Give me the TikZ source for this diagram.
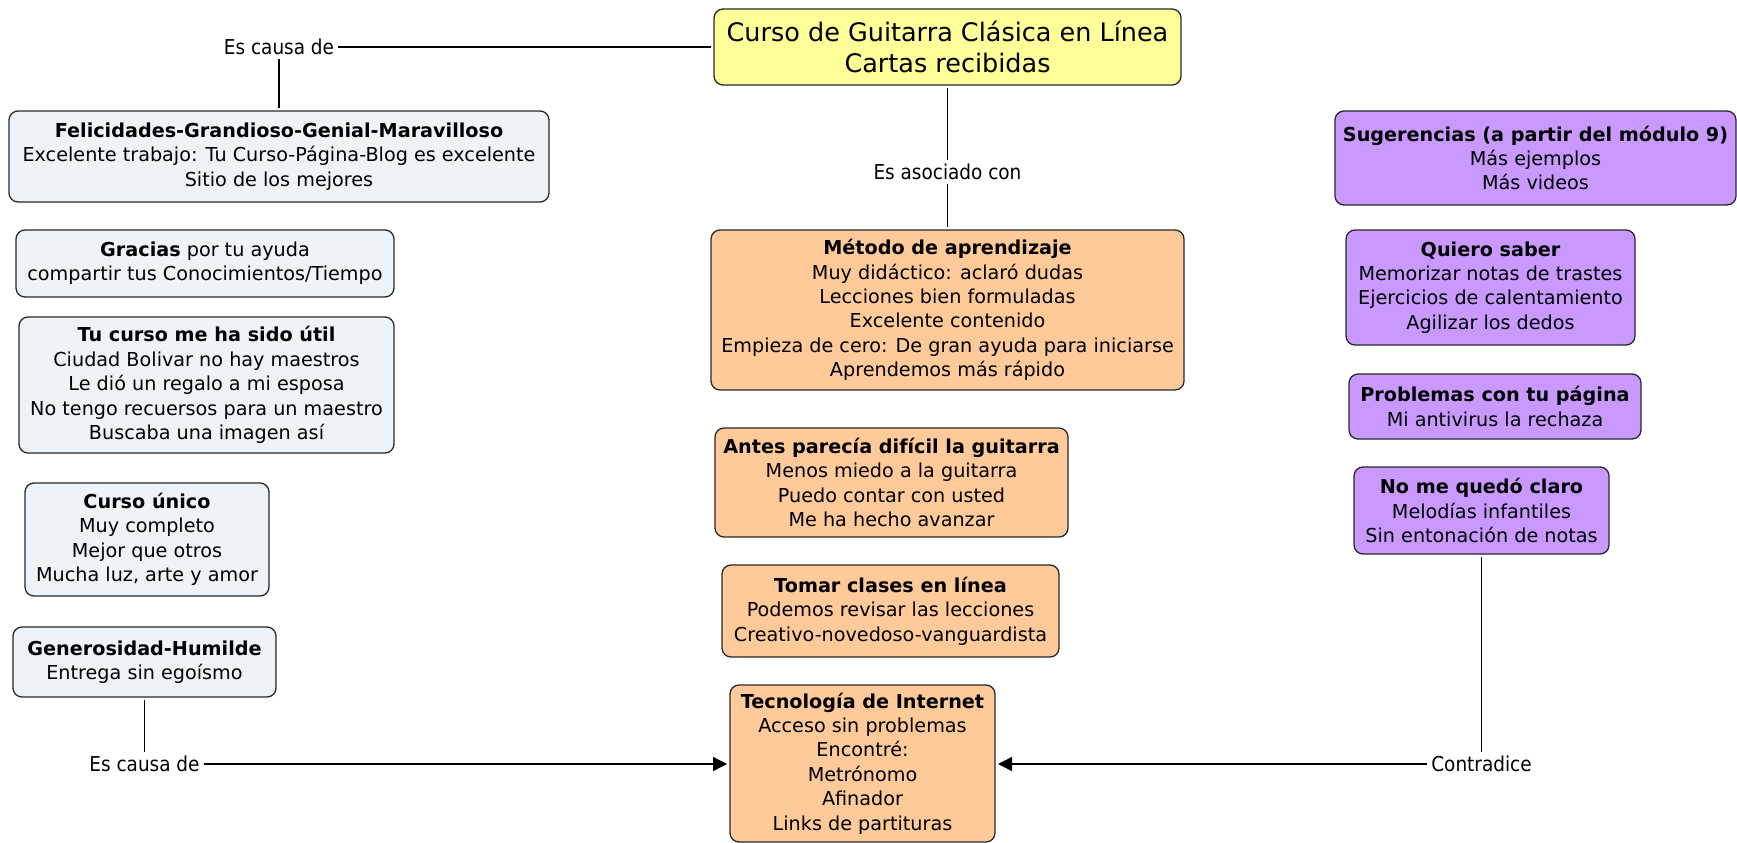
\documentclass[tikz,border=0pt]{standalone}
\usepackage{fontspec}
\setmainfont{DejaVu Sans}
\newfontfamily\labelfont{DejaVu Sans Condensed}
\usetikzlibrary{arrows.meta}
\definecolor{bluebox}{RGB}{237,243,246}
\definecolor{orangebox}{RGB}{255,202,153}
\definecolor{purplebox}{RGB}{202,153,255}
\definecolor{yellowbox}{RGB}{255,255,153}
\definecolor{edgecol}{RGB}{40,40,40}
\begin{document}
\begin{tikzpicture}[x=1pt,y=-1pt,
  box/.style={draw=edgecol, line width=1.3pt, rounded corners=9pt, align=center,
    inner sep=0pt, outer sep=3pt, font=\fontsize{19.2}{24.4}\selectfont},
  bluen/.style={box, fill=bluebox},
  orangen/.style={box, fill=orangebox},
  purplen/.style={box, fill=purplebox},
  mainn/.style={box, fill=yellowbox, font=\fontsize{25.5}{31}\selectfont},
  linklabel/.style={inner sep=4pt, font=\labelfont\fontsize{20.5}{22}\selectfont},
  conn/.style={draw=black, line width=1.3pt},
  arr/.style={conn, -{Triangle[length=14pt,width=14pt]}}
]
\useasboundingbox (0,0) rectangle (1737,843);

\node[mainn, minimum width=467pt, minimum height=76pt] (main) at (947.5,47)
  {Curso de Guitarra Clásica en Línea\\Cartas recibidas};

\node[bluen, minimum width=540pt, minimum height=91pt] (fel) at (279,156.5)
  {\textbf{Felicidades-Grandioso-Genial-Maravilloso}\\Excelente trabajo: Tu Curso-Página-Blog es excelente\\Sitio de los mejores};
\node[bluen, minimum width=378pt, minimum height=67pt] (gra) at (205,263.5)
  {\textbf{Gracias} por tu ayuda\\compartir tus Conocimientos/Tiempo};
\node[bluen, minimum width=375pt, minimum height=136pt] (tuc) at (206.5,385)
  {\textbf{Tu curso me ha sido útil}\\Ciudad Bolivar no hay maestros\\Le dió un regalo a mi esposa\\No tengo recuersos para un maestro\\Buscaba una imagen así};
\node[bluen, minimum width=244pt, minimum height=113pt] (cun) at (147,539.5)
  {\textbf{Curso único}\\Muy completo\\Mejor que otros\\Mucha luz, arte y amor};
\node[bluen, minimum width=263pt, minimum height=70pt] (gen) at (144.5,662)
  {\textbf{Generosidad-Humilde}\\Entrega sin egoísmo};

\node[orangen, minimum width=473pt, minimum height=160pt] (met) at (947.5,310)
  {\textbf{Método de aprendizaje}\\Muy didáctico: aclaró dudas\\Lecciones bien formuladas\\Excelente contenido\\Empieza de cero: De gran ayuda para iniciarse\\Aprendemos más rápido};
\node[orangen, minimum width=353pt, minimum height=109pt] (ant) at (891.5,482.5)
  {\textbf{Antes parecía difícil la guitarra}\\Menos miedo a la guitarra\\Puedo contar con usted\\Me ha hecho avanzar};
\node[orangen, minimum width=337pt, minimum height=92pt] (tom) at (890.5,611)
  {\textbf{Tomar clases en línea}\\Podemos revisar las lecciones\\Creativo-novedoso-vanguardista};
\node[orangen, minimum width=265pt, minimum height=157pt] (tec) at (862.5,763.5)
  {\textbf{Tecnología de Internet}\\Acceso sin problemas\\Encontré:\\Metrónomo\\Afinador\\Links de partituras};

\node[purplen, minimum width=401pt, minimum height=94pt] (sug) at (1535.5,158)
  {\textbf{Sugerencias (a partir del módulo 9)}\\Más ejemplos\\Más videos};
\node[purplen, minimum width=289pt, minimum height=115pt] (qui) at (1490.5,287.5)
  {\textbf{Quiero saber}\\Memorizar notas de trastes\\Ejercicios de calentamiento\\Agilizar los dedos};
\node[purplen, minimum width=292pt, minimum height=65pt] (pro) at (1495,406.5)
  {\textbf{Problemas con tu página}\\Mi antivirus la rechaza};
\node[purplen, minimum width=255pt, minimum height=87pt] (nom) at (1481.5,510.5)
  {\textbf{No me quedó claro}\\Melodías infantiles\\Sin entonación de notas};

\node[linklabel] (lab1) at (279,47) {Es causa de};
\node[linklabel] (lab2) at (947.5,172) {Es asociado con};
\node[linklabel] (lab3) at (144.5,764) {Es causa de};
\node[linklabel] (lab4) at (1481.5,764) {Contradice};

\draw[conn] (lab1.east) -- (main.west |- lab1.east);
\draw[conn] (fel.north) -- (lab1.south);
\draw[conn] (main.south) -- (lab2.north);
\draw[conn] (lab2.south) -- (met.north);
\draw[conn] (gen.south) -- (lab3.north);
\draw[arr] (lab3.east) -- (tec.west |- lab3.east);
\draw[conn] (nom.south) -- (lab4.north);
\draw[arr] (lab4.west) -- (tec.east |- lab4.west);
\end{tikzpicture}
\end{document}
